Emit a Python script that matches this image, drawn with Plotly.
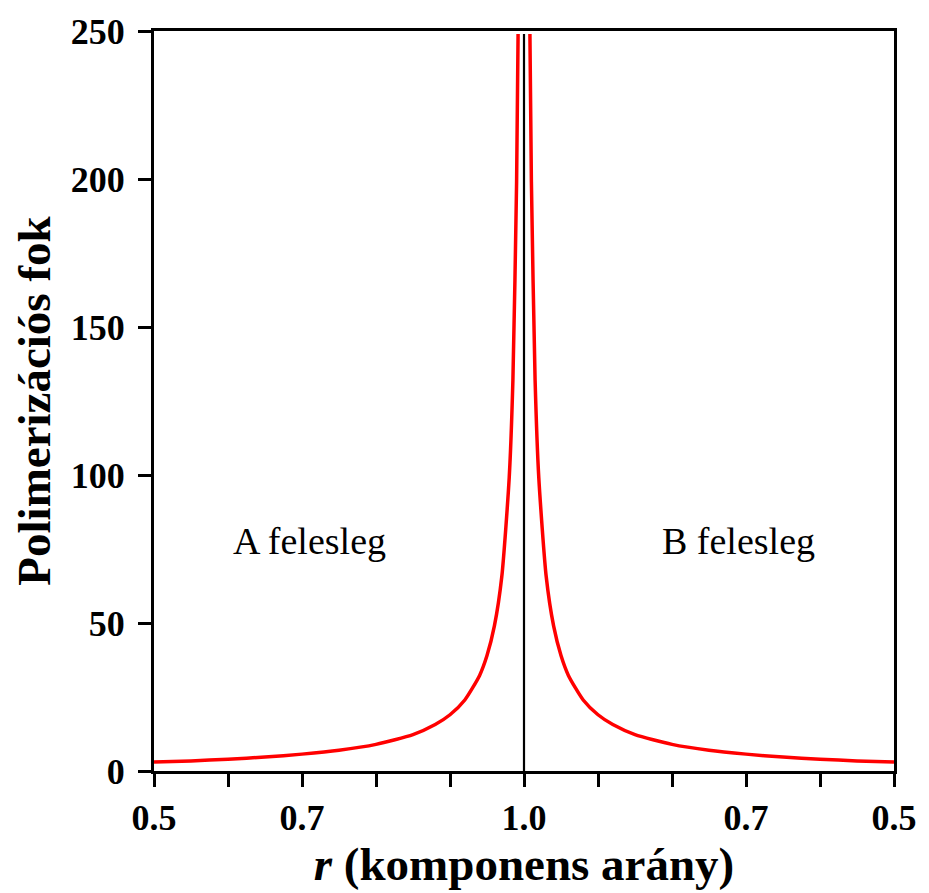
import plotly.graph_objects as go

# r values (component ratio) and degree of polymerization
r_vals = [0.50, 0.55, 0.60, 0.65, 0.70, 0.75, 0.80, 0.85, 0.88, 0.90, 0.92, 0.94, 0.95, 0.96, 0.97, 0.98, 0.985, 0.99, 0.992]
xn_vals = [3.0, 3.4, 4.0, 4.7, 5.7, 7.0, 9.0, 12.3, 15.7, 19.0, 24.0, 32.3, 39.0, 49.0, 65.7, 99.0, 132.0, 199.0, 249.0]

tick_pos = [0.5, 0.6, 0.7, 0.8, 0.9, 1.0, 1.1, 1.2, 1.3, 1.4, 1.5]
tick_text = ["0.5", "", "0.7", "", "", "1.0", "", "", "0.7", "", "0.5"]
y_ticks = [0, 50, 100, 150, 200, 250]

left_x = r_vals
right_x = [2 - r for r in r_vals]

FONT = "Liberation Serif"

fig = go.Figure()
fig.add_trace(go.Scatter(x=left_x, y=xn_vals, mode="lines",
                         line=dict(color="#ff0000", width=3.5, shape="spline", smoothing=0.6),
                         showlegend=False, hoverinfo="skip", cliponaxis=True))
fig.add_trace(go.Scatter(x=right_x, y=xn_vals, mode="lines",
                         line=dict(color="#ff0000", width=3.5, shape="spline", smoothing=0.6),
                         showlegend=False, hoverinfo="skip", cliponaxis=True))
fig.add_trace(go.Scatter(x=[1.0, 1.0], y=[0, 249], mode="lines",
                         line=dict(color="black", width=2.2),
                         showlegend=False, hoverinfo="skip"))

fig.update_layout(
    width=929, height=893,
    margin=dict(l=154, r=30, t=27, b=122),
    paper_bgcolor="white", plot_bgcolor="white",
    font=dict(family=FONT, color="black"),
    xaxis=dict(range=[0.5, 1.5], tickmode="array", tickvals=tick_pos, ticktext=tick_text,
               showgrid=False, zeroline=False, showline=True, linecolor="black", linewidth=3,
               mirror=True, ticks="outside", ticklen=13, tickwidth=2.5, tickcolor="black",
               tickfont=dict(family=FONT, size=36, weight="bold"),
               title=dict(text="<i>r</i> (komponens arány)",
                          font=dict(family=FONT, size=47, weight="bold"), standoff=2)),
    yaxis=dict(range=[0, 250], tickmode="array", tickvals=y_ticks,
               showgrid=False, zeroline=False, showline=True, linecolor="black", linewidth=3,
               mirror=True, ticks="outside", ticklen=13, tickwidth=2.5, tickcolor="black",
               ticklabelstandoff=6,
               tickfont=dict(family=FONT, size=36, weight="bold"),
               title=dict(text="Polimerizációs fok",
                          font=dict(family=FONT, size=47, weight="bold"), standoff=6)),
    annotations=[
        dict(x=0.7105, y=77.6, xref="x", yref="y", text="A felesleg", showarrow=False,
             font=dict(family=FONT, size=38, color="black")),
        dict(x=1.29, y=77.6, xref="x", yref="y", text="B felesleg", showarrow=False,
             font=dict(family=FONT, size=38, color="black")),
    ],
)

fig.write_html("out.html", config={"displayModeBar": False},
               post_script="document.body.style.margin='0';document.body.style.overflow='hidden';")
